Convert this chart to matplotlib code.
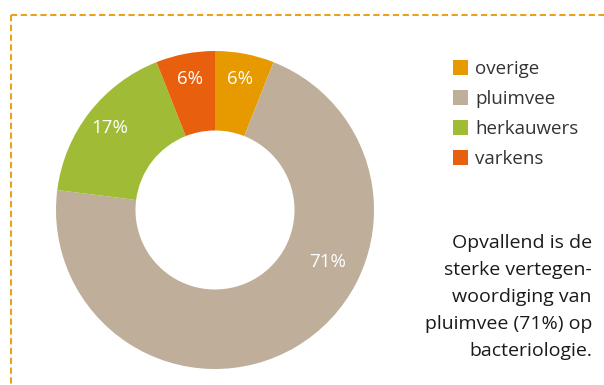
import numpy as np
import matplotlib.pyplot as plt
from matplotlib.lines import Line2D

plt.rcParams["font.family"] = ["Open Sans", "DejaVu Sans"]

categories = ["overige", "pluimvee", "herkauwers", "varkens"]
shares = [6, 71, 17, 6]
colors = ["#E69A00", "#BFAE9A", "#A0BC37", "#E8600E"]
note = "Opvallend is de\nsterke vertegen-\nwoordiging van\npluimvee (71%) op\nbacteriologie."

fig = plt.figure(figsize=(6.04, 3.85), dpi=100)

# dashed frame, open to the right and bottom
frame_kw = dict(color="#E9A21A", lw=1.5, linestyle=(0, (3, 1.7)), transform=fig.transFigure)
fig.add_artist(Line2D([11 / 604, 1.0], [1 - 15 / 385, 1 - 15 / 385], **frame_kw))
fig.add_artist(Line2D([11 / 604, 11 / 604], [1 - 15 / 385, 0.0], **frame_kw))

ax = fig.add_axes([56 / 604, 16 / 385, 318 / 604, 318 / 385])
wedges, _, autotexts = ax.pie(
    shares,
    colors=colors,
    startangle=90,
    counterclock=False,
    radius=1.0,
    wedgeprops=dict(width=0.5, linewidth=0),
    autopct="%d%%",
    pctdistance=0.84,
    textprops=dict(color="white", fontsize=13.5),
)
# the big slice has its label pushed towards the right side, as in the original
big = int(np.argmax(shares))
ang = np.deg2rad(-25)
autotexts[big].set_position((0.78 * np.cos(ang), 0.78 * np.sin(ang)))

ax.set_xlim(-1, 1)
ax.set_ylim(-1, 1)
ax.set_aspect("equal")
ax.axis("off")

fig.legend(
    wedges,
    categories,
    loc="upper left",
    bbox_to_anchor=(436 / 604, 1 - 43 / 385),
    frameon=False,
    fontsize=13.5,
    handlelength=0.8,
    handleheight=0.8,
    handletextpad=0.4,
    labelspacing=0.64,
    labelcolor="#333333",
)

fig.text(592 / 604, 1 - 234 / 385, note, ha="right", va="top", multialignment="right",
         fontsize=14, color="#1a1a1a", linespacing=1.64)

fig.savefig("out.png", dpi=100)
